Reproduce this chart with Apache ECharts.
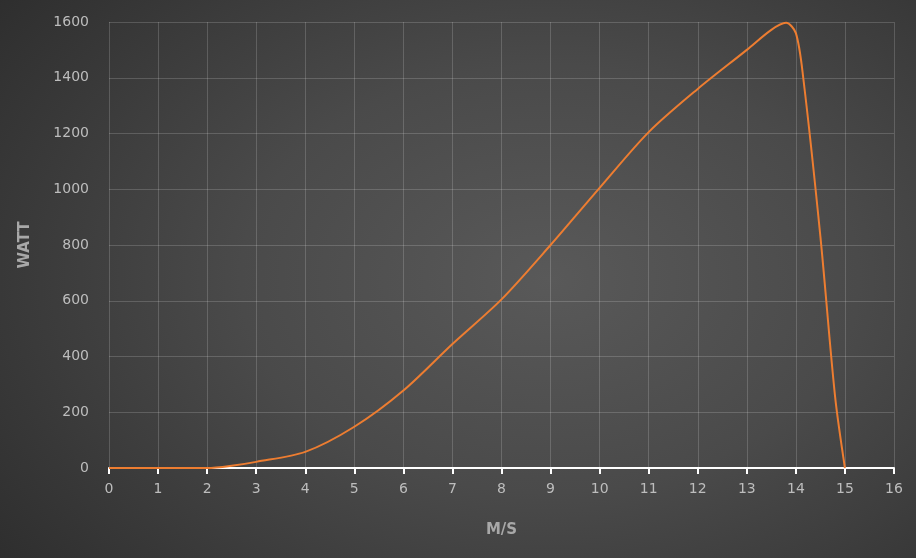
<!DOCTYPE html>
<html>
<head>
<meta charset="utf-8">
<script src="https://cdn.jsdelivr.net/npm/echarts@6/dist/echarts.min.js"></script>
<style>
html,body{margin:0;padding:0;width:916px;height:558px;overflow:hidden;
background: radial-gradient(ellipse 75% 85% at 60% 50%, #595959 0%, #4a4a4a 45%, #383838 80%, #2e2e2e 100%);}
#chart{width:916px;height:558px;}
</style>
</head>
<body>
<div id="chart"></div>
<script>
const speeds = [0, 1, 2, 2.5, 3, 4, 5, 6, 7, 8, 9, 10, 11, 12, 13, 13.5, 13.8, 14, 14.15, 14.5, 14.8, 15];
const watts  = [0, 0, 0, 8, 22, 58, 148, 278, 445, 605, 800, 1005, 1205, 1360, 1500, 1572, 1597, 1560, 1400, 830, 255, 0];
const xTicks = [0,1,2,3,4,5,6,7,8,9,10,11,12,13,14,15,16];
const yTicks = [0,200,400,600,800,1000,1200,1400,1600];
const xName = 'M/S';
const yName = 'WATT';

const chart = echarts.init(document.getElementById('chart'));
const labelColor = '#bdbdbd';
chart.setOption({
  backgroundColor: 'transparent',
  animation: false,
  grid: {left: 109, right: 22, top: 22, bottom: 90, containLabel: false},
  xAxis: {
    type: 'value', min: xTicks[0], max: xTicks[xTicks.length-1], interval: 1,
    name: xName, nameLocation: 'middle', nameGap: 55,
    nameTextStyle: {color: '#a8a8a8', fontSize: 15, fontWeight: 'bold', fontFamily: 'DejaVu Sans'},
    axisLine: {show: true, lineStyle: {color: '#ffffff', width: 2}},
    axisTick: {show: true, length: 6, lineStyle: {color: '#ffffff', width: 2}},
    axisLabel: {color: labelColor, fontSize: 14, margin: 14, fontFamily: 'DejaVu Sans', formatter: v => String(v)},
    splitLine: {show: true, lineStyle: {color: 'rgba(255,255,255,0.17)', width: 1}}
  },
  yAxis: {
    type: 'value', min: yTicks[0], max: yTicks[yTicks.length-1], interval: 200,
    name: yName, nameLocation: 'middle', nameGap: 76, nameRotate: 90,
    nameTextStyle: {color: '#a8a8a8', fontSize: 15, fontWeight: 'bold', fontFamily: 'DejaVu Sans'},
    axisLine: {show: false},
    axisTick: {show: false},
    axisLabel: {color: labelColor, fontSize: 14, margin: 20, fontFamily: 'DejaVu Sans', formatter: v => String(v)},
    splitLine: {show: true, lineStyle: {color: 'rgba(255,255,255,0.17)', width: 1}}
  },
  series: [{
    type: 'line',
    data: speeds.map((s, i) => [s, watts[i]]),
    smooth: 0.3,
    showSymbol: false,
    z: 5,
    lineStyle: {color: '#ED7D31', width: 2},
    itemStyle: {color: '#ED7D31'}
  }]
});
</script>
</body>
</html>
